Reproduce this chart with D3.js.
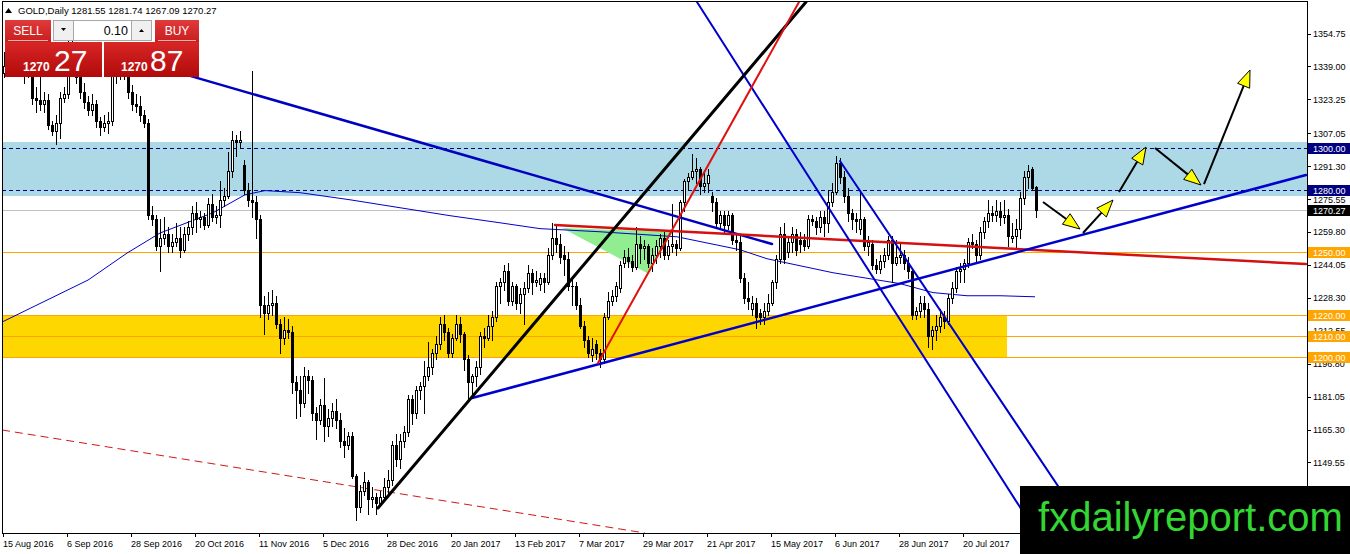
<!DOCTYPE html>
<html><head><meta charset="utf-8">
<script src="https://cdn.jsdelivr.net/npm/d3@7"></script>
<style>
html,body{margin:0;padding:0;background:#fff;overflow:hidden}
svg{display:block}
text{font-family:"Liberation Sans",Arial,sans-serif}
</style>
</head><body>
<svg id="c" width="1350" height="554"></svg>
<script>
// ---------------- DATA ----------------
const symbolTitle = "GOLD,Daily";
const headerQuote = ["1281.55","1281.74","1267.09","1270.27"];
const startDate = "2016-08-15";
const skipDates = ["2016-12-26","2017-01-02","2017-04-14"];

const opens = [
1336,1339,1346,1348,1349,1341,1338,1340,1324,1323,
1321,1323,1311,1308,1312,1324,1326,1349,1348,1334,
1327,1322,1318,1321,1313,1310,1312,1313,1336,1338,
1339,1337,1327,1321,1320,1316,1312,1268,1266,1253,
1257,1259,1253,1255,1257,1251,1259,1262,1269,1266,
1267,1263,1273,1267,1268,1275,1277,1289,1304,1303,
1292,1280,1275,1274,1266,1225,1221,1225,1226,1216,
1209,1213,1212,1188,1184,1178,1191,1189,1173,1170,
1177,1167,1171,1174,1170,1160,1158,1162,1143,1128,
1136,1140,1132,1133,1130,1133,1138,1141,1158,1151,
1160,1164,1180,1173,1184,1186,1191,1195,1202,1206,
1216,1212,1202,1209,1216,1211,1199,1188,1191,1195,
1210,1209,1215,1219,1234,1236,1241,1227,1234,1226,
1230,1233,1240,1236,1235,1238,1236,1249,1257,1254,
1249,1247,1234,1234,1225,1215,1208,1201,1206,1202,
1199,1219,1227,1229,1233,1245,1248,1246,1243,1254,
1252,1253,1245,1249,1253,1257,1249,1253,1254,1252,
1274,1284,1286,1289,1290,1282,1283,1277,1274,1264,
1268,1263,1268,1256,1255,1238,1228,1223,1226,1221,
1219,1222,1226,1236,1247,1259,1250,1255,1259,1256,
1256,1253,1266,1265,1262,1267,1264,1274,1279,1293,
1286,1277,1269,1266,1261,1266,1253,1254,1244,1242,
1246,1249,1256,1245,1248,1249,1245,1241,1220,1222,
1226,1223,1210,1213,1215,1219,1217,1228,1233,1241,
1242,1245,1255,1254,1249,1260,1265,1269,1268,1270,
1267,1268,1257,1258,1261,1276,1286,1290,1281.55];

const highs = [
1346,1351,1353,1357,1352,1343,1343,1341,1329,1343,
1327,1326,1313,1316,1327,1329,1352,1352,1350,1338,
1331,1325,1326,1323,1315,1316,1317,1338,1344,1343,
1342,1340,1330,1326,1325,1318,1314,1272,1268,1266,
1267,1262,1259,1264,1262,1262,1265,1272,1274,1270,
1269,1276,1278,1272,1284,1281,1298,1308,1306,1308,
1294,1283,1337,1277,1268,1229,1231,1232,1229,1218,
1219,1218,1215,1191,1191,1195,1194,1191,1176,1180,
1190,1175,1178,1180,1173,1166,1164,1164,1144,1139,
1145,1141,1138,1135,1136,1142,1146,1160,1163,1163,
1167,1182,1182,1186,1188,1198,1207,1204,1210,1219,
1220,1214,1211,1220,1219,1212,1201,1192,1198,1212,
1214,1220,1222,1236,1238,1244,1245,1236,1235,1233,
1236,1244,1242,1241,1240,1240,1252,1264,1263,1259,
1253,1250,1238,1236,1228,1217,1210,1209,1208,1204,
1221,1231,1232,1236,1246,1251,1252,1249,1262,1258,
1256,1254,1252,1256,1259,1260,1256,1273,1256,1275,
1285,1288,1297,1295,1291,1288,1290,1279,1276,1270,
1270,1270,1269,1259,1258,1240,1236,1229,1228,1223,
1226,1230,1237,1249,1262,1264,1257,1262,1261,1260,
1259,1268,1268,1267,1270,1270,1280,1283,1296,1295,
1289,1281,1271,1269,1280,1267,1258,1256,1247,1249,
1252,1258,1258,1256,1254,1251,1248,1242,1224,1229,
1229,1226,1215,1220,1223,1222,1230,1236,1243,1245,
1247,1257,1259,1256,1262,1267,1275,1272,1275,1274,
1275,1271,1264,1266,1279,1289,1292,1291,1281.74];

const lows = [
1334,1337,1340,1345,1336,1331,1334,1321,1317,1318,
1317,1309,1306,1302,1305,1322,1324,1342,1331,1324,
1319,1316,1316,1310,1306,1308,1307,1311,1331,1333,
1333,1324,1318,1317,1313,1310,1266,1263,1251,1241,
1254,1250,1250,1253,1248,1250,1256,1259,1260,1262,
1261,1262,1265,1264,1262,1272,1276,1286,1296,1300,
1278,1272,1267,1257,1219,1211,1218,1220,1214,1202,
1206,1209,1183,1171,1172,1176,1183,1170,1161,1168,
1160,1162,1167,1166,1157,1152,1156,1142,1122,1126,
1134,1125,1128,1125,1129,1131,1134,1139,1148,1147,
1157,1162,1168,1171,1180,1173,1189,1192,1199,1204,
1208,1200,1200,1208,1207,1194,1180,1182,1186,1192,
1205,1208,1208,1217,1226,1232,1225,1225,1223,1221,
1216,1231,1230,1234,1232,1231,1235,1247,1250,1245,
1239,1232,1225,1223,1214,1205,1200,1198,1199,1195,
1197,1218,1225,1227,1231,1243,1243,1241,1242,1245,
1247,1243,1241,1245,1248,1247,1247,1250,1249,1251,
1270,1280,1285,1283,1278,1279,1279,1270,1262,1261,
1259,1261,1254,1251,1236,1226,1223,1220,1214,1216,
1216,1220,1225,1233,1245,1245,1248,1250,1249,1250,
1251,1252,1263,1259,1260,1258,1260,1272,1278,1283,
1274,1265,1261,1260,1259,1251,1249,1242,1240,1240,
1243,1247,1236,1244,1245,1242,1238,1218,1218,1219,
1219,1205,1204,1208,1212,1214,1216,1226,1231,1236,
1236,1243,1252,1246,1247,1257,1262,1265,1265,1263,
1264,1253,1255,1252,1257,1273,1281,1280,1267.09];

const closes = [
1339,1346,1348,1349,1341,1338,1340,1324,1323,1321,
1323,1311,1308,1312,1324,1326,1349,1348,1334,1327,
1322,1318,1321,1313,1310,1312,1313,1336,1338,1339,
1337,1327,1321,1320,1316,1312,1268,1266,1253,1257,
1259,1253,1255,1257,1251,1259,1262,1269,1266,1267,
1263,1273,1267,1268,1275,1277,1289,1304,1303,1304,
1280,1275,1274,1266,1225,1221,1225,1226,1216,1209,
1213,1212,1188,1184,1178,1191,1189,1173,1170,1177,
1167,1171,1174,1170,1160,1158,1162,1143,1128,1136,
1140,1132,1133,1130,1133,1138,1141,1158,1151,1160,
1164,1180,1173,1184,1186,1191,1195,1202,1206,1216,
1212,1202,1209,1216,1211,1199,1188,1191,1195,1210,
1209,1215,1219,1234,1236,1241,1227,1234,1226,1230,
1233,1240,1236,1237,1238,1236,1249,1257,1254,1248,
1247,1234,1234,1225,1215,1208,1202,1204,1202,1199,
1219,1227,1229,1234,1244,1248,1246,1243,1254,1252,
1253,1245,1249,1253,1257,1249,1253,1254,1252,1274,
1284,1286,1289,1290,1282,1283,1287,1274,1264,1268,
1263,1268,1256,1255,1238,1228,1227,1226,1219,1219,
1222,1226,1236,1247,1259,1247,1255,1259,1251,1254,
1253,1266,1265,1262,1267,1264,1274,1279,1293,1286,
1277,1269,1266,1265,1266,1253,1255,1244,1242,1246,
1249,1256,1245,1248,1249,1245,1241,1220,1222,1226,
1223,1210,1213,1215,1219,1217,1228,1233,1241,1242,
1245,1255,1254,1249,1260,1265,1269,1268,1270,1267,
1268,1258,1258,1261,1276,1286,1289,1281,1270.27];

// moving average: [bar index, price]
const maPoints = [[-0.5,1216.7],[21,1236.8],[30.75,1249.7],[39,1259.3],[52.25,1269.0],[60.25,1277.6],
  [65.25,1279.6],[74,1278.6],[86.5,1275.2],[99,1271.4],[111.5,1267.6],[124,1264.2],[134,1261.4],
  [149,1259.9],[168.25,1257.5],[184,1251.3],[190.75,1247.0],[207.25,1240.3],[224,1235.1],
  [232.25,1230.8],[240.75,1229.3],[249,1229.3],[257.75,1228.8]];

// trend lines: [bar index, price]
const lineUpperResist = [[45,1335.3],[192,1254.05]];
const lineBlackTrend  = [[93.5,1127.76],[200.5,1369.8]];
const lineRedSteep    = [[148.5,1197.1],[198.75,1369.8]];
const lineRedFlat     = [[137.75,1263.14],[325.5,1244.48]];
const lineBlueSupport = [[117,1180.38],[325.5,1287.06]];
const lineChannelA    = [[173.25,1369.8],[258.125,1115.8]];
const lineChannelB    = [[209,1293.76],[271.375,1115.8]];
const lineRedDashed   = [[-0.5,1165.07],[160.25,1115.8]];
const greenTriangle   = [[139.5,1261.7],[167.25,1259.79],[160.75,1240.18]];

// projected path arrows: [from, to]
const arrowPaths = [
  [[259.75,1274.14],[269,1261.23]],
  [[269.75,1259.3],[277.25,1275.1]],
  [[278.75,1278.93],[285.5,1300.45]],
  [[287.75,1299.98],[299.25,1282.27]],
  [[300,1282.75],[311.5,1337.29]]
];

// zones and levels
const resistZone = [1303.0, 1276.9];
const supportZone = [1220.0, 1199.6];
const supportZoneEnd = 250.75;
const blueLevels = [1300.00, 1280.00];
const orangeLevels = [1250.00, 1220.00, 1210.00, 1200.00];
const currentPrice = 1270.27;

const yTickValues = [1354.75,1339.00,1323.25,1307.05,1291.30,1275.55,1259.80,1244.05,1228.30,1212.55,1196.80,1181.05,1165.30,1149.55,1133.80];
const xTickLabels = ["15 Aug 2016","6 Sep 2016","28 Sep 2016","20 Oct 2016","11 Nov 2016","5 Dec 2016","28 Dec 2016","20 Jan 2017","13 Feb 2017","7 Mar 2017","29 Mar 2017","21 Apr 2017","15 May 2017","6 Jun 2017","28 Jun 2017","20 Jul 2017"];

const sellPrice = ["1270","27"];
const buyPrice = ["1270","87"];
const lotSize = "0.10";
const watermark = "fxdailyreport.com";

// ---------------- DATES (trading calendar) ----------------
const fmt = d3.utcFormat("%Y-%m-%d");
const dates = [];
{
  let d = d3.utcParse("%Y-%m-%d")(startDate);
  while (dates.length < closes.length) {
    const wd = d.getUTCDay();
    if (wd !== 0 && wd !== 6 && !skipDates.includes(fmt(d))) dates.push(fmt(d));
    d = d3.utcDay.offset(d, 1);
  }
}
const dateIndex = new Map(dates.map((d,i)=>[d,i]));

// ---------------- SCALES ----------------
const P = {left:2, right:1307, top:1, bottom:533};
const x = d3.scaleLinear().domain([0, closes.length-1]).range([4, 4 + 4*(closes.length-1)]);
const y = d3.scaleLinear().domain([1115.8, 1370.3]).range([P.bottom, P.top]);
const cy = v => Math.round(y(v)) + 0.5;

const svg = d3.select("#c");
svg.append("rect").attr("width",1350).attr("height",554).attr("fill","#fff");
svg.append("defs").append("clipPath").attr("id","plot")
  .append("rect").attr("x",P.left).attr("y",P.top).attr("width",P.right-P.left).attr("height",P.bottom-P.top);
const g = svg.append("g").attr("clip-path","url(#plot)");

// zones
g.append("rect").attr("x",P.left).attr("width",P.right-P.left)
  .attr("y",Math.round(y(resistZone[0]))).attr("height",Math.round(y(resistZone[1]))-Math.round(y(resistZone[0])))
  .attr("fill","#ADD8E6");
g.append("rect").attr("x",P.left).attr("width",Math.round(x(supportZoneEnd))-P.left)
  .attr("y",Math.round(y(supportZone[0]))).attr("height",Math.round(y(supportZone[1]))-Math.round(y(supportZone[0])))
  .attr("fill","#FFD700");

// level lines
orangeLevels.forEach(v=>g.append("line").attr("x1",P.left).attr("x2",P.right).attr("y1",cy(v)).attr("y2",cy(v))
  .attr("stroke","#FFA500").attr("stroke-width",1));
g.append("line").attr("x1",P.left).attr("x2",P.right).attr("y1",cy(currentPrice)).attr("y2",cy(currentPrice))
  .attr("stroke","#C0C0C0").attr("stroke-width",1);
blueLevels.forEach(v=>g.append("line").attr("x1",P.left).attr("x2",P.right).attr("y1",cy(v)).attr("y2",cy(v))
  .attr("stroke","#000080").attr("stroke-width",1).attr("stroke-dasharray","4,3"));

// green triangle
g.append("polygon").attr("points",greenTriangle.map(p=>[x(p[0]),y(p[1])].join(",")).join(" "))
  .attr("fill","#90EE90");

const lineGen = d3.line().x(p=>x(p[0])).y(p=>y(p[1]));

// red dashed
g.append("path").attr("d",lineGen(lineRedDashed)).attr("stroke","#D01818").attr("stroke-width",1)
  .attr("stroke-dasharray","8,5").attr("fill","none");
// moving average
g.append("path").attr("d",lineGen(maPoints)).attr("stroke","#0000CD").attr("stroke-width",1).attr("fill","none");

// candles
const cg = g.append("g");
closes.forEach((c,i)=>{
  const o=opens[i], h=highs[i], l=lows[i];
  const xc = Math.round(x(i));
  cg.append("line").attr("x1",xc+0.5).attr("x2",xc+0.5).attr("y1",Math.round(y(h))).attr("y2",Math.round(y(l))+1)
    .attr("stroke","#000").attr("stroke-width",1);
  const top = Math.round(y(Math.max(o,c))), bot = Math.round(y(Math.min(o,c)));
  cg.append("rect").attr("x",xc-1).attr("y",top).attr("width",3).attr("height",Math.max(bot-top,0)+1).attr("fill","#000");
  if (c>o && bot-top>=2) {
    cg.append("rect").attr("x",xc).attr("y",top+1).attr("width",1).attr("height",bot-top-1).attr("fill","#fff");
  }
});

// trend lines
const drawLine = (pts,color,w)=>g.append("path").attr("d",lineGen(pts)).attr("stroke",color)
  .attr("stroke-width",w).attr("fill","none").attr("stroke-linecap","round");
drawLine(lineUpperResist,"#0000C0",2.5);
drawLine(lineRedFlat,"#D41010",2.5);
drawLine(lineBlueSupport,"#0000CD",2.5);
drawLine(lineChannelA,"#0000CD",2);
drawLine(lineChannelB,"#0000CD",2);
drawLine(lineBlackTrend,"#000000",3);
drawLine(lineRedSteep,"#E01010",2);

// arrows
arrowPaths.forEach(([a,b])=>{
  const x1=x(a[0]), y1=y(a[1]), x2=x(b[0]), y2=y(b[1]);
  const dx=x2-x1, dy=y2-y1, len=Math.hypot(dx,dy), ux=dx/len, uy=dy/len;
  const hl=17, hw=6.5;
  const bx=x2-ux*hl, by=y2-uy*hl;
  g.append("line").attr("x1",x1).attr("y1",y1).attr("x2",bx).attr("y2",by)
    .attr("stroke","#000").attr("stroke-width",2);
  g.append("polygon").attr("points",[[x2,y2],[bx-uy*hw,by+ux*hw],[bx+uy*hw,by-ux*hw]].map(p=>p.join(",")).join(" "))
    .attr("fill","#FFFF00").attr("stroke","#000").attr("stroke-width",1);
});

// plot border
svg.append("rect").attr("x",P.left+0.5).attr("y",P.top+0.5).attr("width",P.right-P.left).attr("height",P.bottom-P.top)
  .attr("fill","none").attr("stroke","#000").attr("stroke-width",1);

// right axis
const ya = svg.append("g");
yTickValues.forEach(v=>{
  ya.append("line").attr("x1",P.right).attr("x2",P.right+4).attr("y1",cy(v)).attr("y2",cy(v)).attr("stroke","#000");
  ya.append("text").attr("x",P.right+6).attr("y",y(v)+3.5).attr("font-size",9).attr("fill","#000").text(v.toFixed(2));
});
const tagLabel = (v,bg)=>{
  const yy = Math.round(y(v));
  ya.append("rect").attr("x",P.right+1).attr("y",yy-5).attr("width",1350-P.right-1).attr("height",11).attr("fill",bg);
  ya.append("text").attr("x",P.right+6).attr("y",yy+4).attr("font-size",9).attr("fill","#fff").text(v.toFixed(2));
};
blueLevels.forEach(v=>tagLabel(v,"#000080"));
orangeLevels.forEach(v=>tagLabel(v,"#FFA500"));
tagLabel(currentPrice,"#000000");

// bottom axis
const xa = svg.append("g");
const parseLbl = d3.utcParse("%e %b %Y");
xTickLabels.forEach(s=>{
  const i = dateIndex.get(fmt(parseLbl(s)));
  if (i===undefined) return;
  const xx = Math.round(x(i)) - 1;
  xa.append("line").attr("x1",xx+0.5).attr("x2",xx+0.5).attr("y1",P.bottom).attr("y2",P.bottom+4).attr("stroke","#000");
  xa.append("text").attr("x",xx).attr("y",P.bottom+14).attr("font-size",9).attr("fill","#000").text(s);
});

// header
const hd = svg.append("g");
hd.append("polygon").attr("points","5,13 8.5,8 12,13").attr("fill","#000");
hd.append("text").attr("x",18).attr("y",14).attr("font-size",9.5).attr("fill","#000")
  .text(symbolTitle + "  " + headerQuote.join(" "));

// trade panel
const defs = svg.select("defs");
const gr = defs.append("linearGradient").attr("id","bigred").attr("x1",0).attr("y1",0).attr("x2",0).attr("y2",1);
gr.append("stop").attr("offset","0%").attr("stop-color","#D92626");
gr.append("stop").attr("offset","100%").attr("stop-color","#B00A0A");
const gr2 = defs.append("linearGradient").attr("id","smallred").attr("x1",0).attr("y1",0).attr("x2",0).attr("y2",1);
gr2.append("stop").attr("offset","0%").attr("stop-color","#E03A3A");
gr2.append("stop").attr("offset","100%").attr("stop-color","#C81E1E");

const pn = svg.append("g");
// sell / buy small boxes
pn.append("rect").attr("x",5).attr("y",20).attr("width",46).attr("height",22).attr("fill","url(#smallred)");
pn.append("rect").attr("x",155).attr("y",20).attr("width",44).attr("height",22).attr("fill","url(#smallred)");
pn.append("line").attr("x1",8).attr("x2",48).attr("y1",40.5).attr("y2",40.5).attr("stroke","#F0B0B0");
pn.append("line").attr("x1",158).attr("x2",196).attr("y1",40.5).attr("y2",40.5).attr("stroke","#F0B0B0");
pn.append("text").attr("x",28).attr("y",35).attr("text-anchor","middle").attr("font-size",12).attr("fill","#fff").text("SELL");
pn.append("text").attr("x",177).attr("y",35).attr("text-anchor","middle").attr("font-size",12).attr("fill","#fff").text("BUY");
// lot control
pn.append("rect").attr("x",53.5).attr("y",20.5).attr("width",98).attr("height",20).attr("fill","#fff").attr("stroke","#A8A8A8");
pn.append("rect").attr("x",53.5).attr("y",20.5).attr("width",20).attr("height",20).attr("fill","#F0F0F0").attr("stroke","#A8A8A8");
pn.append("rect").attr("x",131.5).attr("y",20.5).attr("width",20).attr("height",20).attr("fill","#F0F0F0").attr("stroke","#A8A8A8");
pn.append("polygon").attr("points","61,28 66,28 63.5,31").attr("fill","#000");
pn.append("polygon").attr("points","139,32 144,32 141.5,29").attr("fill","#000");
pn.append("text").attr("x",128).attr("y",35).attr("text-anchor","end").attr("font-size",12.5).attr("fill","#000").text(lotSize);
// big price boxes
pn.append("rect").attr("x",5).attr("y",42).attr("width",97).attr("height",35).attr("fill","url(#bigred)");
pn.append("rect").attr("x",104).attr("y",42).attr("width",95).attr("height",35).attr("fill","url(#bigred)");
pn.append("text").attr("x",23).attr("y",71).attr("font-size",12).attr("font-weight","bold").attr("fill","#fff").text(sellPrice[0]);
pn.append("text").attr("x",54).attr("y",71).attr("font-size",30).attr("fill","#fff").text(sellPrice[1]);
pn.append("text").attr("x",121).attr("y",71).attr("font-size",12).attr("font-weight","bold").attr("fill","#fff").text(buyPrice[0]);
pn.append("text").attr("x",150).attr("y",71).attr("font-size",30).attr("fill","#fff").text(buyPrice[1]);

// watermark
svg.append("rect").attr("x",1020).attr("y",486).attr("width",330).attr("height",68).attr("fill","#000");
svg.append("text").attr("x",1038).attr("y",531).attr("font-size",40).attr("fill","#33D633")
  .attr("textLength",305).attr("lengthAdjust","spacingAndGlyphs").text(watermark);
</script>
</body></html>
